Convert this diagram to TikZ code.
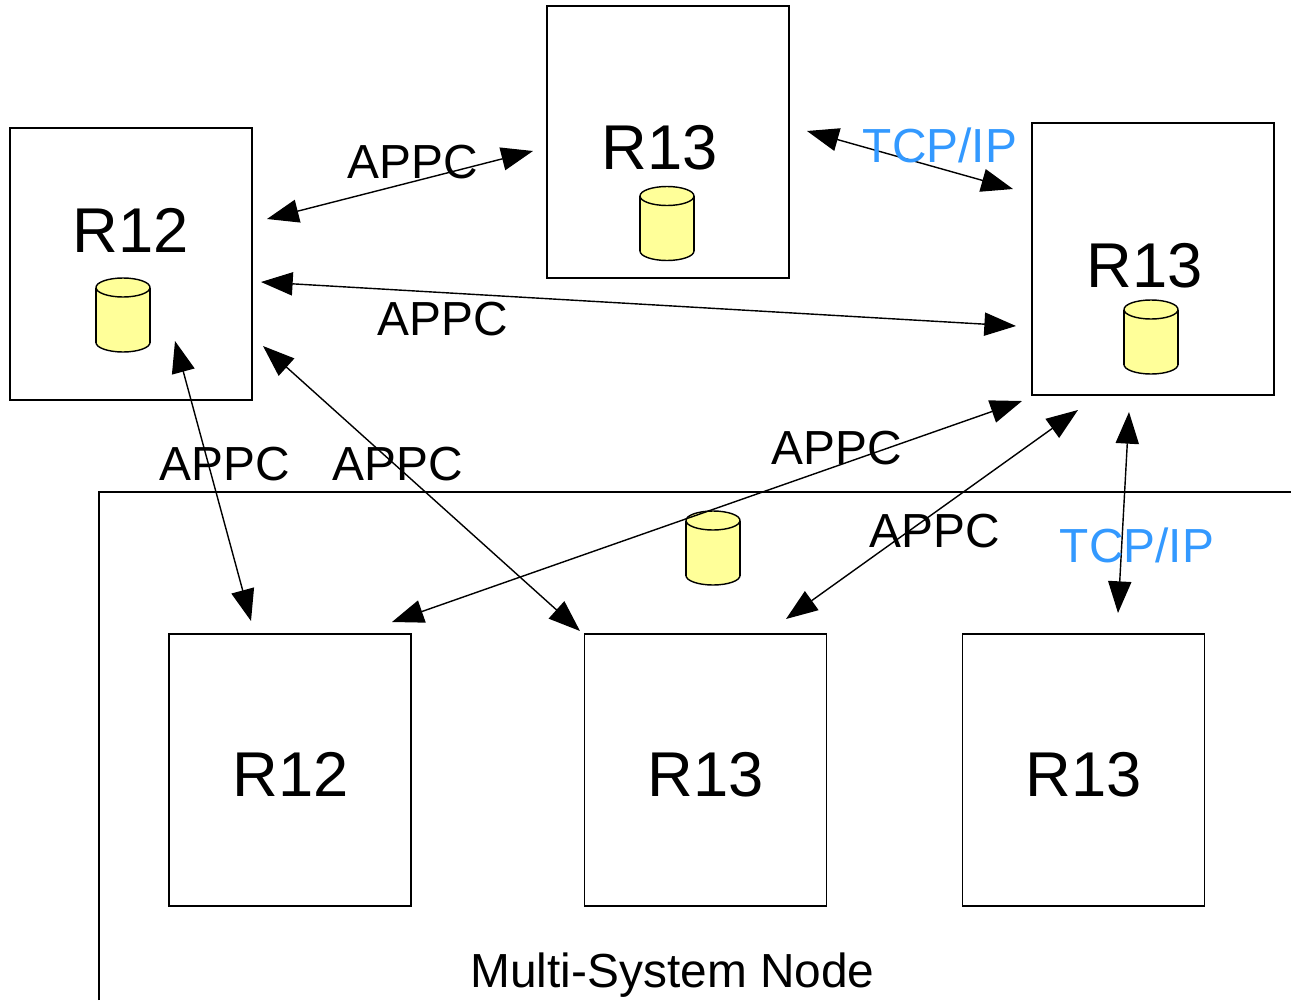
\documentclass[tikz,border=0pt]{standalone}
\usepackage{fontspec}
\setmainfont{Liberation Sans}
\usetikzlibrary{arrows.meta}

\definecolor{dbyellow}{HTML}{FFFF99}
\definecolor{tcpblue}{HTML}{3399FF}

\tikzset{
    sysbox/.style={draw, rectangle, inner sep=0pt, minimum width=2.42cm, minimum height=2.72cm},
    sysname/.style={anchor=base, inner sep=0pt, font=\fontsize{18}{22}\selectfont},
    proto/.style={anchor=base, inner sep=0pt, font=\fontsize{13.6}{16}\selectfont},
    tcplabel/.style={proto, text=tcpblue},
    link/.style={{Triangle[length=9pt,width=6.6pt]}-{Triangle[length=9pt,width=6.6pt]}, line width=0.4pt},
    dbcyl/.pic={
        \filldraw[fill=dbyellow] (0,27.5) ellipse (27 and 9.5);
        \fill[dbyellow] (-27,-27.5) rectangle (27,27.5);
        \draw (-27,-27.5) -- (-27,27.5) (27,-27.5) -- (27,27.5);
        \filldraw[fill=dbyellow] (0,-27.5) ellipse (27 and 9.5);
    }
}

\begin{document}
\begin{tikzpicture}[x=0.01cm, y=-0.01cm]
        \useasboundingbox (0,0) rectangle (1291,1000);

        % multi-system node frame
        \draw (99,1000) -- (99,492) -- (1291,492);
        \node[proto] (MSN) at (672.5,987) {Multi-System Node};
        \pic at (713,548) {dbcyl};

        % systems
        \node[sysbox] (R12a) at (131,264) {};
        \node[sysbox] (R13a) at (668,142) {};
        \node[sysbox] (R13b) at (1153,259) {};
        \node[sysbox] (R12m) at (290,770) {};
        \node[sysbox] (R13m) at (705.5,770) {};
        \node[sysbox] (R13n) at (1083.5,770) {};

        \node[sysname] (R12aName) at (131,252) {R12};
        \node[sysname] (R13aName) at (660,169) {R13};
        \node[sysname] (R13bName) at (1145,287) {R13};
        \node[sysname] (R12mName) at (291,796) {R12};
        \node[sysname] (R13mName) at (706,796) {R13};
        \node[sysname] (R13nName) at (1084,796) {R13};

        \pic at (123,315) {dbcyl};
        \pic at (667,223.5) {dbcyl};
        \pic at (1151,337) {dbcyl};

        % link end points
        \coordinate (a1) at (267,219);
        \coordinate (a2) at (533,151);
        \coordinate (b1) at (261,282);
        \coordinate (b2) at (1016,326);
        \coordinate (c1) at (807,131);
        \coordinate (c2) at (1013,189);
        \coordinate (d1) at (175,341);
        \coordinate (d2) at (251,621);
        \coordinate (e1) at (263,346);
        \coordinate (e2) at (580,631);
        \coordinate (f1) at (392,622);
        \coordinate (f2) at (1022,401);
        \coordinate (g1) at (786,619);
        \coordinate (g2) at (1078,410);
        \coordinate (h1) at (1129,412);
        \coordinate (h2) at (1118,613);

        \draw[link] (a1) -- (a2);
        \draw[link] (b1) -- (b2);
        \draw[link] (c1) -- (c2);
        \draw[link] (d1) -- (d2);
        \draw[link] (e1) -- (e2);
        \draw[link] (f1) -- (f2);
        \draw[link] (g1) -- (g2);
        \draw[link] (h1) -- (h2);

        % link labels
        \node[proto] (APPCa) at (413,178) {APPC};
        \node[proto] (APPCb) at (443,335) {APPC};
        \node[proto] (APPCc) at (224.5,480) {APPC};
        \node[proto] (APPCd) at (397.5,480) {APPC};
        \node[proto] (APPCe) at (837,464) {APPC};
        \node[proto] (APPCf) at (935,547) {APPC};
        \node[tcplabel] (TCPa) at (940,162) {TCP/IP};
        \node[tcplabel] (TCPb) at (1137,562) {TCP/IP};
    \end{tikzpicture}
\end{document}
